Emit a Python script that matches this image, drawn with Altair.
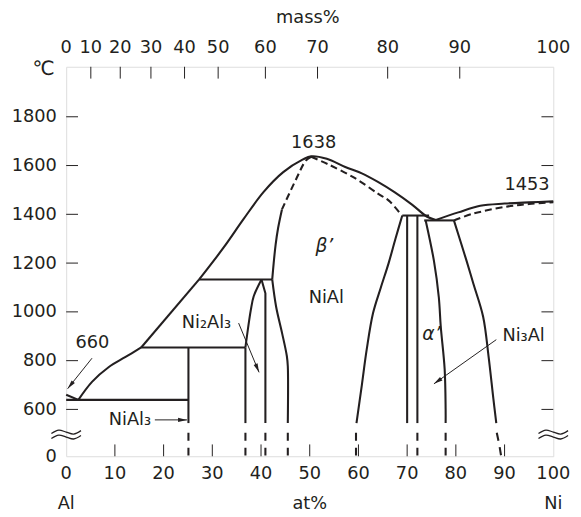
import altair as alt
import pandas as pd

INK = "#231f20"
FONT = "DejaVu Sans"
W, H = 494, 395

# ---------------- data (at% Ni, temperature in deg C) ----------------
# solid phase boundaries
eutectic_al = [(0, 660), (2.5, 639)]
liquidus_al = [(2.5, 639), (5.3, 713), (8.7, 773), (12.1, 814), (15.4, 854)]
liquidus_mid = [(15.4, 854), (27.3, 1133)]
liquidus_dome = [(27.3, 1133), (32.3, 1263), (36.4, 1380), (40.5, 1491), (44.5, 1572),
                 (48.6, 1625), (50.3, 1638), (53.5, 1628), (57.3, 1594), (60.7, 1568),
                 (64.0, 1533), (67.4, 1491), (71.0, 1440), (74.1, 1390), (75.9, 1377)]
liquidus_ni = [(75.9, 1377), (80.5, 1408), (85.0, 1435), (90.0, 1444), (95.0, 1449), (100, 1453)]
iso_1133 = [(27.3, 1133), (42.3, 1133)]
iso_854 = [(15.4, 854), (36.8, 854)]
iso_639 = [(0, 639), (25.1, 639)]
iso_1395 = [(69.0, 1395), (74.5, 1395)]
iso_1375 = [(73.5, 1375), (79.6, 1375)]
nial3_line = [(25.1, 854), (25.1, 425)]
ni2al3_left_v = [(36.8, 425), (36.8, 854)]
ni2al3_left = [(36.8, 854), (37.9, 1007), (38.5, 1064), (40.1, 1133)]
ni2al3_right = [(40.1, 1133), (40.9, 1076), (40.9, 425)]
beta_left_high = [(44.3, 1420), (43.5, 1343), (43.0, 1276), (42.6, 1200), (42.3, 1133)]
beta_left_low = [(42.3, 1133), (43.1, 1021), (44.3, 915), (45.3, 819), (45.5, 777), (45.5, 425)]
beta_right = [(69.0, 1395), (67.6, 1300), (66.2, 1200), (64.6, 1100), (63.0, 995),
              (61.7, 846), (60.7, 700), (59.6, 425)]
line_70 = [(70.0, 1395), (70.0, 425)]
line_72 = [(72.1, 1395), (72.1, 425)]
alpha_right = [(73.8, 1375), (75.5, 1209), (76.5, 1060), (76.9, 940), (77.7, 765),
               (77.9, 600), (77.9, 425)]
gamma_left = [(79.6, 1375), (82.2, 1209), (83.6, 1115), (85.6, 980), (86.7, 820),
              (87.7, 644), (88.3, 425)]

# dashed boundaries
solidus_beta_left = [(50.3, 1636), (49.2, 1620), (47.2, 1544), (44.3, 1420)]
solidus_beta_right = [(50.3, 1636), (53.8, 1605), (59.3, 1548), (64.0, 1485), (66.3, 1455), (68.8, 1398)]
solidus_ni = [(79.6, 1375), (83.6, 1403), (90.3, 1431), (95.0, 1442), (100, 1450)]

# low-temperature (broken axis) dashed extensions
ext_x = [25.1, 36.8, 40.9, 45.5, 59.5, 72.1, 77.9]
ext_top, ext_bottom = 300, 0
ext_gamma = [(88.4, 300), (88.9, 150), (89.3, 0)]

# axes
x_labels = list(range(0, 101, 10))
x_ticks = list(range(10, 100, 10))
y_labels = [0, 600, 800, 1000, 1200, 1400, 1600, 1800]
y_ticks = [600, 800, 1000, 1200, 1400, 1600, 1800]
mass_labels = ["0", "10", "20", "30", "40", "50", "60", "70", "80", "90", "100"]
mass_pos = [0, 5.06, 11.1, 17.4, 24.3, 31.2, 40.9, 51.6, 66.0, 80.8, 100]

# annotations
ann_text = ["660", "1638", "1453", "NiAl", "Ni\u2083Al", "Ni\u2082Al\u2083", "NiAl\u2083"]
ann_x = [5.4, 50.8, 94.6, 53.4, 93.9, 28.8, 13.1]
ann_T = [874, 1693, 1520, 1056, 899, 955, 462]
ital_text = ["\u03b2\u2019", "\u03b1\u2019"]
ital_x = [53.0, 75.0]
ital_T = [1268, 907]

arrow_x1 = [5.3, 35.4, 88.3, 18.2]
arrow_T1 = [810, 954, 886, 466]
arrow_x2 = [0.3, 39.6, 75.5, 24.8]
arrow_T2 = [685, 752, 705, 466]
arrow_angle = [219, 157, 235, 90]

# axis-break glyph (pixel offsets of one wavy stroke)
wave_dx = [-15, -7.5, 0, 7.5, 15]
wave_dy = [1.5, -2.0, 0.0, 2.0, -1.5]

# ---------------- build tables ----------------
def table(groups):
    rows = []
    for name, pts in groups:
        for i, (x, t) in enumerate(pts):
            rows.append({"seg": name, "i": i, "x": x, "T": t})
    return pd.DataFrame(rows)

solid_curved = table([
    ("liquidus_al", liquidus_al), ("liquidus_dome", liquidus_dome), ("liquidus_ni", liquidus_ni),
    ("ni2al3_left", ni2al3_left), ("beta_left_high", beta_left_high),
    ("beta_left_low", beta_left_low), ("beta_right", beta_right),
    ("alpha_right", alpha_right), ("gamma_left", gamma_left),
])
solid_straight = table([
    ("eutectic_al", eutectic_al), ("liquidus_mid", liquidus_mid),
    ("iso_1133", iso_1133), ("iso_854", iso_854), ("iso_639", iso_639),
    ("iso_1395", iso_1395), ("iso_1375", iso_1375), ("nial3", nial3_line),
    ("ni2al3_left_v", ni2al3_left_v), ("ni2al3_right", ni2al3_right),
    ("line_70", line_70), ("line_72", line_72),
])
dashed_curved = table([
    ("solidus_beta_left", solidus_beta_left), ("solidus_beta_right", solidus_beta_right),
    ("solidus_ni", solidus_ni),
])
ext_groups = [(f"ext{k}", [(x, ext_top), (x, ext_bottom)]) for k, x in enumerate(ext_x)]
ext_groups.append(("ext_gamma", ext_gamma))
ext_df = table(ext_groups)

ann_df = pd.DataFrame({"label": ann_text, "x": ann_x, "T": ann_T})
ital_df = pd.DataFrame({"label": ital_text, "x": ital_x, "T": ital_T})
arrow_df = pd.DataFrame({"x": arrow_x1, "T": arrow_T1, "x2": arrow_x2, "T2": arrow_T2, "ang": arrow_angle})
xtick_df = pd.DataFrame({"x": x_ticks})
xlab_df = pd.DataFrame({"x": x_labels, "label": [str(v) for v in x_labels]})
ytick_df = pd.DataFrame({"T": y_ticks})
mass_df = pd.DataFrame({"x": mass_pos, "label": mass_labels})
mass_tick_df = pd.DataFrame({"x": mass_pos[1:-1]})
foot_df = pd.DataFrame({"x": [0, 50, 100], "label": ["Al", "at%", "Ni"]})

BREAK_Y = 373
wave_rows = []
for side, cx in (("L", 0), ("R", W)):
    for k, off in enumerate((-2.5, 2.5)):
        for i, (dx, dy) in enumerate(zip(wave_dx, wave_dy)):
            wave_rows.append({"seg": f"{side}{k}", "i": i, "px": cx + dx, "py": BREAK_Y + off + dy})
wave_df = pd.DataFrame(wave_rows)

# ---------------- scales / axes ----------------
xs = alt.Scale(domain=[0, 100], nice=False, zero=False)
ys = alt.Scale(domain=[0, 600, 2005], range=[H, 347.5, 0], nice=False, zero=False)
yaxis = alt.Axis(values=y_labels, labelFontSize=18, labelFont=FONT, labelColor=INK,
                 labelPadding=10, ticks=False, tickSize=0, domain=False, grid=False,
                 title=None, labelOverlap=False, labelFlush=False, format="d")
X = alt.X("x:Q", scale=xs, axis=None)
Y = alt.Y("T:Q", scale=ys, axis=yaxis)

def lines(df, **kw):
    return alt.Chart(df).mark_line(color=INK, **kw).encode(
        x=X, y=Y, detail="seg:N", order="i:Q")

l_solid_c = lines(solid_curved, strokeWidth=2.1, interpolate="catmull-rom")
l_solid_s = lines(solid_straight, strokeWidth=2.1)
l_dash_c = lines(dashed_curved, strokeWidth=2.1, interpolate="catmull-rom", strokeDash=[7, 4])
l_ext = lines(ext_df, strokeWidth=2.1, interpolate="catmull-rom", strokeDash=[8, 7])

def text_layer(df, y, **kw):
    base = dict(font=FONT, fontSize=18, color=INK, align="center", baseline="middle")
    base.update(kw)
    return alt.Chart(df).mark_text(**base).encode(x=X, y=y, text="label:N")

ann = text_layer(ann_df, Y)
ital = text_layer(ital_df, Y, fontSize=19, fontStyle="italic")

arrow_lines = alt.Chart(arrow_df).mark_rule(color=INK, strokeWidth=1).encode(
    x=X, y=Y, x2="x2:Q", y2="T2:Q")
arrow_heads = alt.Chart(arrow_df).mark_point(
    shape="M0,0L0.45,1.9L-0.45,1.9Z", filled=True, fill=INK, size=90, opacity=1,
    strokeWidth=0).encode(x=alt.X("x2:Q", scale=xs, axis=None),
                          y=alt.Y("T2:Q", scale=ys, axis=yaxis),
                          angle=alt.Angle("ang:Q", scale=None))

xt = alt.Chart(xtick_df).mark_rule(color=INK, strokeWidth=1).encode(
    x=X, y=alt.value(H), y2=alt.value(H - 12))
mt = alt.Chart(mass_tick_df).mark_rule(color=INK, strokeWidth=1).encode(
    x=X, y=alt.value(0), y2=alt.value(12))
ytl = alt.Chart(ytick_df).mark_rule(color=INK, strokeWidth=1).encode(
    y=Y, x=alt.value(0), x2=alt.value(12))
ytr = alt.Chart(ytick_df).mark_rule(color=INK, strokeWidth=1).encode(
    y=Y, x=alt.value(W), x2=alt.value(W - 12))

xlab = text_layer(xlab_df, alt.value(H + 18))
mass_lbl = text_layer(mass_df, alt.value(-19))
foot = text_layer(foot_df, alt.value(H + 48))
mass_title = alt.Chart(pd.DataFrame({"t": ["mass%"]})).mark_text(
    font=FONT, fontSize=18, color=INK, align="center", baseline="middle").encode(
    x=alt.value(W / 2 - 2), y=alt.value(-49), text="t:N")
deg = alt.Chart(pd.DataFrame({"t": ["\u2103"]})).mark_text(
    font=FONT, fontSize=20, color=INK, align="center", baseline="middle").encode(
    x=alt.value(-23), y=alt.value(2), text="t:N")
breaks = alt.Chart(wave_df).mark_line(color=INK, strokeWidth=1.3, interpolate="catmull-rom").encode(
    x=alt.X("px:Q", scale=None), y=alt.Y("py:Q", scale=None), detail="seg:N", order="i:Q")

chart = alt.layer(
    l_solid_c, l_solid_s, l_dash_c, l_ext, xt, mt, ytl, ytr,
    arrow_lines, arrow_heads, ann, ital, xlab, mass_lbl, foot, mass_title, deg, breaks,
).properties(
    width=W, height=H,
    autosize=alt.AutoSizeParams(type="none"),
    padding={"left": 59, "top": 56, "right": 20, "bottom": 58},
).configure_view(stroke=INK, strokeWidth=2).configure(background="white")

chart.save("out.html", embed_options={"renderer": "svg", "actions": False})
